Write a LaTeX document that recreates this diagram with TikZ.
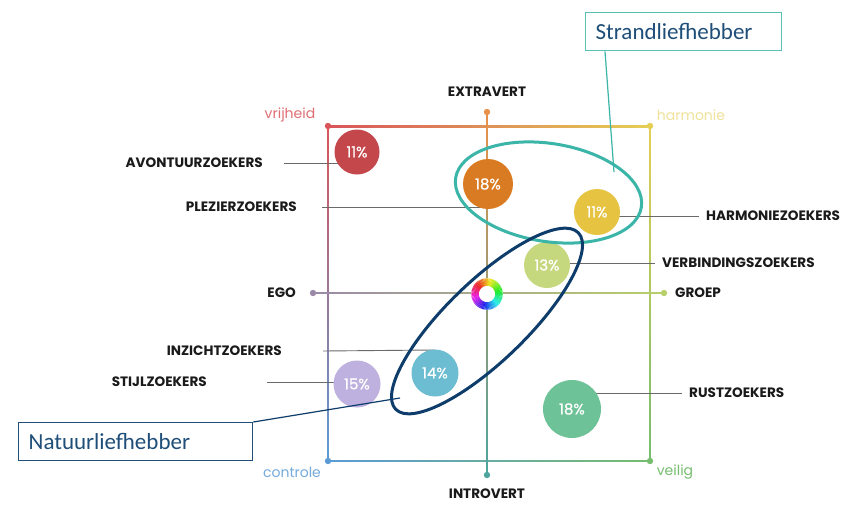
\documentclass[tikz,border=0pt]{standalone}
\usepackage{fontspec}
\setmainfont{Poppins}
\newfontfamily\boxfont{Carlito}
\newfontfamily\segfont[FakeBold=0.8]{Poppins}
\usetikzlibrary{shapes.geometric}

% axis and frame colours
\definecolor{lRed}{HTML}{D9545A}
\definecolor{lOrange}{HTML}{E8914A}
\definecolor{lYellow}{HTML}{E5CF55}
\definecolor{lPurple}{HTML}{9E86B8}
\definecolor{lBlue}{HTML}{5B9BD5}
\definecolor{lTeal}{HTML}{4DA59E}
\definecolor{lGreen}{HTML}{76BD6F}
\definecolor{lLime}{HTML}{B8D06A}
\definecolor{lGray}{HTML}{9A8AA8}
\definecolor{lMid}{HTML}{D8B08A}
% segment circles
\definecolor{cA}{HTML}{C4474C}
\definecolor{cB}{HTML}{D97B22}
\definecolor{cC}{HTML}{E6C441}
\definecolor{cD}{HTML}{C5D87E}
\definecolor{cE}{HTML}{6CBDD1}
\definecolor{cF}{HTML}{BEB0DF}
\definecolor{cG}{HTML}{6DC297}
% callouts
\definecolor{strandTeal}{HTML}{3BB5A8}
\definecolor{natNavy}{HTML}{0E3D6B}
\definecolor{boxText}{HTML}{1F4E79}
\definecolor{labelInk}{HTML}{1A1A1A}
\definecolor{leaderGray}{HTML}{6A6A6A}

\tikzset{
  seg/.style={circle, inner sep=0pt, text=white, font=\segfont\fontsize{15}{15}\selectfont},
  lbl/.style={inner sep=0pt, text=labelInk, font=\bfseries\fontsize{13.6}{13.6}\selectfont},
  pole/.style={inner sep=0pt, font=\fontsize{14}{14}\selectfont},
  leader/.style={draw=leaderGray, line width=0.9pt},
  callout/.style={draw, line width=1.3pt, fill=white, anchor=north west, minimum height=38pt,
    inner xsep=10pt, align=left, text=boxText, font=\boxfont\fontsize{23}{23}\selectfont},
  ring/.style={ellipse, draw, line width=3pt, inner sep=0pt}
}

\begin{document}
\begin{tikzpicture}[x=1pt,y=-1pt]
\useasboundingbox[fill=white] (0,0) rectangle (845,504);

% frame of the map
\shade[left color=lRed, middle color=lOrange, right color=lYellow] (328,125.2) rectangle (650,127);
\shade[top color=lRed, middle color=lPurple, bottom color=lBlue] (327.1,126) rectangle (328.9,461);
\shade[left color=lBlue, middle color=lTeal, right color=lGreen] (328,460.1) rectangle (650,461.9);
\shade[top color=lYellow, middle color=lLime!80!lYellow, bottom color=lGreen] (649.1,126) rectangle (650.9,461);
% axes
\shade[top color=lOrange, middle color=lMid, bottom color=lTeal] (486.2,112) rectangle (487.8,475);
\shade[left color=lGray, middle color=lMid!60!white, right color=lLime] (313,292.2) rectangle (664,293.8);

% axis and corner dots
\fill[lRed] (328,126) circle[radius=3.2];
\fill[lYellow] (650,126) circle[radius=3.2];
\fill[lBlue] (328,461) circle[radius=3.2];
\fill[lGreen] (650,461) circle[radius=3.2];
\fill[lOrange] (487,112) circle[radius=3.2];
\fill[lTeal] (487,475) circle[radius=3.2];
\fill[lGray] (313,293) circle[radius=3.2];
\fill[lLime] (664,293) circle[radius=3.2];

% pole words
\node[pole, text=lRed!85!white] (vrij) at (290,115) {vrijheid};
\node[pole, text=lYellow!60!white] (harm) at (691,115) {harmonie};
\node[pole, text=lBlue!85!white] (contr) at (292,472) {controle};
\node[pole, text=lGreen] (veil) at (675,472) {veilig};
\node[lbl] (extra) at (487,92) {EXTRAVERT};
\node[lbl] (intro) at (487,494) {INTROVERT};
\node[lbl, anchor=east] (ego) at (296,293) {EGO};
\node[lbl, anchor=west] (groep) at (675,293) {GROEP};

% segment labels
\node[lbl, anchor=east] (avo) at (263,163) {AVONTUURZOEKERS};
\node[lbl, anchor=east] (plz) at (297,207) {PLEZIERZOEKERS};
\node[lbl, anchor=east] (inz) at (282,351) {INZICHTZOEKERS};
\node[lbl, anchor=east] (stj) at (207,382) {STIJLZOEKERS};
\node[lbl, anchor=west] (har) at (706,216) {HARMONIEZOEKERS};
\node[lbl, anchor=west] (ver) at (662,263) {VERBINDINGSZOEKERS};
\node[lbl, anchor=west] (rus) at (689,393) {RUSTZOEKERS};

% segment positions (placed first so the leaders can refer to them)
\coordinate (pA) at (357,152);
\coordinate (pB) at (488,184);
\coordinate (pC) at (597,212);
\coordinate (pD) at (547,265);
\coordinate (pE) at (435,373);
\coordinate (pF) at (357,384);
\coordinate (pG) at (572,409);

% leader lines
\draw[leader] ([xshift=21pt]avo.east) -- (avo.east -| pA);
\draw[leader] ([xshift=25pt]plz.east) -- (plz.east -| pB);
\draw[leader] ([xshift=41pt]inz.east) -- ([yshift=1pt]inz.east -| pE);
\draw[leader] ([xshift=60pt]stj.east) -- (stj.east -| pF);
\draw[leader] (pC |- har.west) -- ([xshift=-7pt]har.west);
\draw[leader] (pD |- ver.west) -- ([xshift=-7pt]ver.west);
\draw[leader] (pG |- rus.west) -- ([xshift=-7pt]rus.west);

% segment circles
\node[seg, fill=cA, minimum size=45pt] (sA) at (pA) {11\%};
\node[seg, fill=cB, minimum size=50pt] (sB) at (pB) {18\%};
\node[seg, fill=cC, minimum size=46pt] (sC) at (pC) {11\%};
\node[seg, fill=cD, minimum size=46pt] (sD) at (pD) {13\%};
\node[seg, fill=cE, minimum size=47pt] (sE) at (pE) {14\%};
\node[seg, fill=cF, minimum size=47pt] (sF) at (pF) {15\%};
\node[seg, fill=cG, minimum size=58pt] (sG) at (pG) {18\%};

% colour wheel in the centre
\fill[white] (487,294) circle[radius=15.8];
\foreach \a in {0,5,...,355}{
  \pgfmathsetmacro\hue{mod(135+\a+2.5,360)/360}
  \definecolor{wheel}{hsb}{\hue,0.85,0.92}
  \draw[wheel, line width=7.5pt] ([shift={(\a:12)}]487,294)
    arc[start angle=\a, end angle=\a+5.6, radius=12];
}

% group outlines
\node[ring, draw=strandTeal, minimum width=188pt, minimum height=98pt, rotate=-9] (strandring) at (548.5,192.5) {};
\node[ring, draw=natNavy, minimum width=254pt, minimum height=80pt, rotate=44] (natring) at (487,321) {};

% callouts
\coordinate (strandend) at (614,172);
\coordinate (natend) at (400,398);
\node[callout, draw=strandTeal!85!white, text width=176pt] (strand) at (585,12) {Strandliefhebber};
\node[callout, draw=boxText, text width=214pt] (natuur) at (18,422) {Natuurliefhebber};
\draw[strandTeal, line width=1.2pt] ([xshift=20pt]strand.south west) -- (strandend);
\draw[natNavy, line width=1.2pt] (natuur.north east) -- (natend);
\end{tikzpicture}
\end{document}
